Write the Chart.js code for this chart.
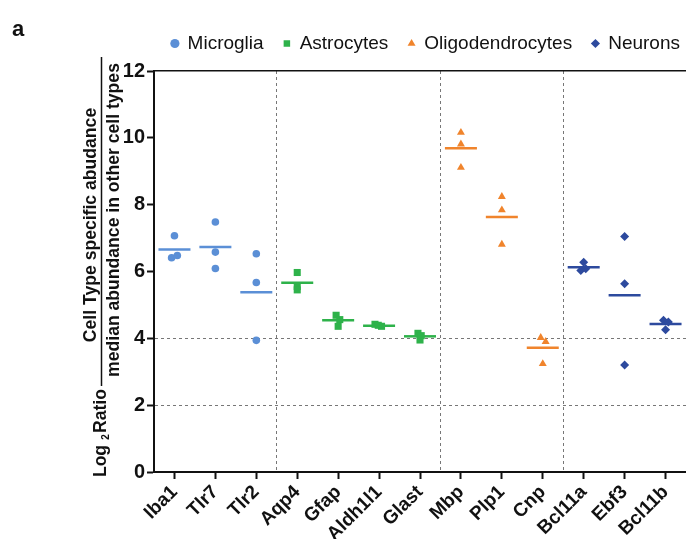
<!DOCTYPE html>
<html>
<head>
<meta charset="utf-8">
<script src="https://cdn.jsdelivr.net/npm/chart.js@4.4.1/dist/chart.umd.min.js"></script>
<style>
  html, body { margin: 0; padding: 0; background: #fff; }
  #wrap { width: 686px; height: 539px; }
</style>
</head>
<body>
<div id="wrap"><canvas id="chart" width="686" height="539"></canvas></div>
<script>
// genes on the x axis, grouped by cell type
const genes = ['Iba1', 'Tlr7', 'Tlr2', 'Aqp4', 'Gfap', 'Aldh1l1', 'Glast', 'Mbp', 'Plp1', 'Cnp', 'Bcl11a', 'Ebf3', 'Bcl11b'];
const yTicks = [0, 2, 4, 6, 8, 10, 12];

// log2 ratio, three replicates per gene
const microglia = [[7.07, 6.41, 6.48], [7.48, 6.58, 6.09], [6.53, 5.67, 3.94]];
const astrocytes = [[5.97, 5.55, 5.45], [4.69, 4.56, 4.36], [4.42, 4.36, 4.39], [4.15, 4.08, 3.95]];
const oligodendrocytes = [[10.16, 9.81, 9.11], [8.24, 7.84, 6.81], [4.02, 3.90, 3.24]];
const neurons = [[6.28, 6.03, 6.08], [7.05, 5.63, 3.20], [4.54, 4.49, 4.26]];

// horizontal bars drawn at each gene
const microgliaMean = [6.66, 6.73, 5.38];
const astrocytesMean = [5.66, 4.54, 4.38, 4.06];
const oligodendrocytesMean = [9.69, 7.63, 3.72];
const neuronsMean = [6.13, 5.29, 4.43];

// small sideways spread of overlapping replicates (in gene units)
const jitter = [
  [0, -0.07, 0.07], [0, 0, 0], [0, 0, 0],
  [0, 0, 0], [-0.05, 0.04, 0], [-0.1, 0.06, -0.02], [-0.05, 0.03, 0],
  [0, 0, 0], [0, 0, 0], [-0.05, 0.07, 0],
  [0, -0.07, 0.05], [0, 0, 0], [-0.05, 0.07, 0],
];

const groups = [
  { label: 'Microglia', values: microglia, means: microgliaMean, color: '#5b8fd6', style: 'circle', radius: 3.8 },
  { label: 'Astrocytes', values: astrocytes, means: astrocytesMean, color: '#2eb24a', style: 'rect', radius: 5 },
  { label: 'Oligodendrocytes', values: oligodendrocytes, means: oligodendrocytesMean, color: '#f0842c', style: 'triangle', radius: 4.6 },
  { label: 'Neurons', values: neurons, means: neuronsMean, color: '#2d4a9e', style: 'rectRot', radius: 4.5 },
];

const datasets = [];
const boundaries = [];
let start = 0;
groups.forEach((g) => {
  const pts = [];
  g.values.forEach((reps, i) => {
    reps.forEach((v, k) => pts.push({ x: start + i + jitter[start + i][k], y: v }));
  });
  datasets.push({
    label: g.label, data: pts, pointStyle: g.style, pointRadius: g.radius,
    backgroundColor: g.color, borderColor: g.color, borderWidth: 0, order: 0,
  });
  datasets.push({
    label: g.label + ' mean', isMean: true,
    data: g.means.map((m, i) => ({ x: start + i, y: m })),
    pointStyle: 'line', pointRadius: 16, borderColor: g.color, backgroundColor: g.color,
    borderWidth: 2.5, order: 1,
  });
  start += g.values.length;
  boundaries.push(start - 0.5);
});

const FONT = '"Liberation Sans", Arial, sans-serif';
Chart.defaults.font.family = FONT;
Chart.defaults.color = '#111';

const isBoundary = (v) => !Number.isInteger(v);

const annotate = {
  id: 'annotate',
  afterLayout(chart) {
    // legend sits a little further right than the library puts it
    chart.legend.left += 14;
    chart.legend.right += 14;
  },
  afterDraw(chart) {
    const ctx = chart.ctx;
    ctx.save();
    ctx.fillStyle = '#111';
    ctx.font = 'bold 22px ' + FONT;
    ctx.fillText('a', 12, 30);

    const vtext = (str, x, y, font) => {
      ctx.save();
      ctx.translate(x, y);
      ctx.rotate(-Math.PI / 2);
      ctx.font = font;
      ctx.textAlign = 'center';
      ctx.textBaseline = 'alphabetic';
      ctx.fillText(str, 0, 0);
      ctx.restore();
    };
    const titleFont = 'bold 17.6px ' + FONT;
    vtext('Log', 106, 461, titleFont);
    vtext('2', 109, 437, 'bold 10px ' + FONT);
    vtext('Ratio', 106, 411, titleFont);
    vtext('Cell Type specific abudance', 96, 225, titleFont);
    vtext('median abundance in other cell types', 119, 220, titleFont);

    ctx.strokeStyle = '#111';
    ctx.lineWidth = 1.5;
    ctx.beginPath();
    ctx.moveTo(101.5, 386);
    ctx.lineTo(101.5, 57);
    ctx.stroke();
    ctx.restore();
  },
};

new Chart(document.getElementById('chart'), {
  type: 'scatter',
  data: { datasets },
  options: {
    responsive: false,
    animation: false,
    layout: { autoPadding: false, padding: { top: 14, left: 0, right: 0, bottom: 0 } },
    plugins: {
      tooltip: { enabled: false },
      legend: {
        align: 'end',
        labels: {
          usePointStyle: true,
          boxWidth: 6.5,
          boxHeight: 6.5,
          padding: 20,
          color: '#111',
          font: { size: 19 },
          filter: (item, data) => !data.datasets[item.datasetIndex].isMean,
        },
      },
    },
    scales: {
      x: {
        type: 'linear',
        min: -0.5,
        max: genes.length - 0.5,
        ticks: {
          stepSize: 1,
          autoSkip: false,
          minRotation: 45,
          maxRotation: 45,
          padding: 2,
          color: '#111',
          font: { size: 19, weight: 'bold' },
          callback: (v) => (isBoundary(v) ? '' : genes[v]),
        },
        afterBuildTicks: (axis) => {
          axis.ticks = boundaries.map((b) => ({ value: b })).concat(genes.map((_, i) => ({ value: i })));
        },
        afterFit: (axis) => {
          axis.height = 67;
          axis.paddingLeft = 0;
          axis.paddingRight = 0;
        },
        grid: {
          color: (c) => (c.tick && isBoundary(c.tick.value) ? '#777' : 'rgba(0,0,0,0)'),
          tickColor: (c) => (c.tick && isBoundary(c.tick.value) ? 'rgba(0,0,0,0)' : '#111'),
          tickLength: 7,
          tickWidth: 2,
          lineWidth: 1,
        },
        border: { color: '#111', width: 2, dash: [3, 3] },
      },
      xTop: {
        type: 'linear',
        position: 'top',
        min: -0.5,
        max: genes.length - 0.5,
        ticks: { display: false },
        grid: { display: false, drawTicks: false },
        afterFit: (axis) => {
          axis.height = 8;
          axis.paddingLeft = 0;
          axis.paddingRight = 0;
        },
        border: { color: '#111', width: 1.5 },
      },
      y: {
        min: 0,
        max: 12,
        afterBuildTicks: (axis) => { axis.ticks = yTicks.map((v) => ({ value: v })); },
        ticks: {
          padding: 2,
          color: '#111',
          font: { size: 20, weight: 'bold' },
        },
        afterFit: (axis) => { axis.width = 154; },
        grid: {
          color: (c) => (c.tick && (c.tick.value === 2 || c.tick.value === 4) ? '#777' : 'rgba(0,0,0,0)'),
          tickColor: '#111',
          tickLength: 7,
          tickWidth: 2,
          lineWidth: 1,
        },
        border: { color: '#111', width: 2, dash: [3, 3] },
      },
    },
  },
  plugins: [annotate],
});
</script>
</body>
</html>
